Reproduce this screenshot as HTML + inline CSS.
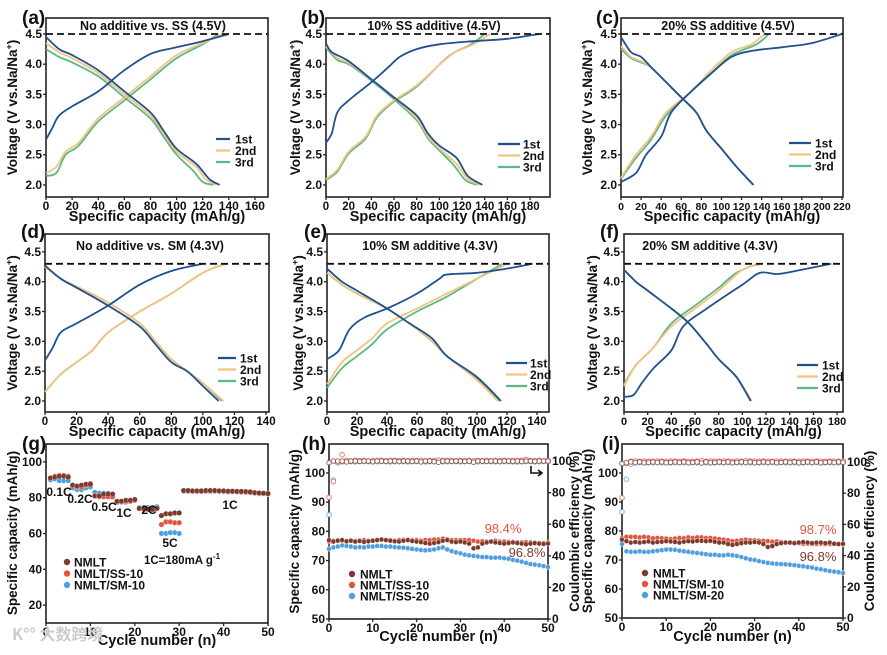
<!DOCTYPE html>
<html><head><meta charset="utf-8"><style>
html,body{margin:0;padding:0;background:#fff;}
svg{display:block;font-family:"Liberation Sans",Arial,sans-serif;font-weight:bold;}
</style></head><body>
<svg id="fig" xmlns="http://www.w3.org/2000/svg" width="887" height="655" viewBox="0 0 887 655"></svg>
<script>
// ---------- DATA: charge/discharge curves [capacity, voltage] ----------
const a1c=[[0,2.75],[5,2.95],[10,3.15],[20,3.3],[40,3.55],[60,3.9],[80,4.17],[100,4.28],[120,4.38],[140,4.5]];
const a1d=[[0,4.45],[10,4.25],[20,4.15],[40,3.9],[60,3.55],[80,3.2],[90,2.9],[100,2.6],[115,2.35],[125,2.1],[133,2.0]];
const a2c=[[0,2.2],[8,2.3],[15,2.55],[25,2.7],[40,3.1],[60,3.45],[80,3.8],[100,4.15],[120,4.35],[135,4.5]];
const a2d=[[0,4.35],[10,4.2],[20,4.1],[40,3.85],[60,3.5],[80,3.15],[90,2.85],[100,2.55],[115,2.3],[122,2.1],[130,2.0]];
const a3c=[[0,2.15],[8,2.2],[15,2.5],[25,2.65],[40,3.05],[60,3.4],[80,3.75],[100,4.1],[120,4.33],[132,4.5]];
const a3d=[[0,4.25],[10,4.12],[20,4.03],[40,3.8],[60,3.45],[80,3.1],[90,2.8],[100,2.5],[112,2.25],[120,2.05],[128,2.0]];

const b1c=[[0,2.7],[5,2.85],[10,3.2],[20,3.4],[40,3.7],[55,3.95],[65,4.12],[80,4.25],[100,4.33],[130,4.38],[160,4.42],[188,4.5]];
const b1d=[[0,4.35],[5,4.2],[20,4.05],[40,3.75],[60,3.45],[80,3.15],[90,2.85],[100,2.65],[115,2.45],[125,2.15],[138,2.0]];
const b2c=[[0,2.1],[10,2.25],[20,2.55],[35,2.8],[45,3.15],[60,3.4],[80,3.65],[110,4.15],[130,4.33],[145,4.5]];
const b2d=[[0,4.3],[10,4.1],[20,4.02],[40,3.75],[60,3.45],[80,3.1],[90,2.8],[100,2.6],[115,2.35],[125,2.1],[135,2.0]];
const b3c=[[0,2.08],[10,2.22],[20,2.52],[35,2.77],[45,3.12],[60,3.38],[80,3.63],[108,4.13],[128,4.33],[140,4.5]];
const b3d=[[0,4.28],[10,4.07],[20,4.0],[40,3.73],[60,3.42],[80,3.07],[90,2.77],[100,2.57],[113,2.32],[123,2.08],[133,2.0]];

const c1c=[[0,2.05],[15,2.2],[25,2.5],[40,2.8],[50,3.2],[70,3.55],[90,3.85],[110,4.12],[130,4.22],[160,4.28],[190,4.35],[220,4.5]];
const c1d=[[0,4.45],[10,4.2],[20,4.12],[30,3.95],[45,3.7],[60,3.45],[75,3.2],[85,2.9],[100,2.6],[115,2.3],[132,2.0]];
const c2c=[[0,2.12],[15,2.5],[30,2.8],[45,3.2],[70,3.55],[90,3.9],[110,4.2],[130,4.33],[143,4.5]];
const c2d=[[0,4.3],[10,4.12],[20,4.05],[30,3.95],[45,3.7],[60,3.45],[75,3.2],[85,2.9],[100,2.6],[115,2.3],[131,2.0]];
const c3c=[[0,2.1],[15,2.45],[30,2.75],[45,3.15],[70,3.55],[90,3.85],[110,4.15],[135,4.33],[147,4.5]];
const c3d=[[0,4.25],[10,4.1],[20,4.03],[30,3.95],[45,3.7],[60,3.45],[75,3.2],[85,2.9],[100,2.6],[115,2.3],[131,2.0]];

const d1c=[[0,2.68],[5,2.9],[10,3.15],[20,3.3],[40,3.6],[60,3.95],[80,4.18],[100,4.3]];
const d1d=[[0,4.27],[10,4.05],[20,3.9],[40,3.6],[60,3.25],[70,2.95],[80,2.65],[90,2.5],[100,2.25],[110,2.0]];
const d2c=[[0,2.15],[10,2.45],[20,2.65],[30,2.85],[40,3.15],[60,3.5],[80,3.8],[100,4.15],[115,4.3]];
const d2d=[[0,4.25],[10,4.05],[20,3.92],[40,3.65],[60,3.3],[70,3.0],[80,2.7],[90,2.5],[100,2.3],[113,2.0]];
const d3c=[[0,2.15],[10,2.45],[20,2.65],[30,2.85],[40,3.15],[60,3.5],[80,3.8],[100,4.15],[114,4.3]];
const d3d=[[0,4.25],[10,4.05],[20,3.92],[40,3.65],[60,3.3],[70,3.0],[80,2.7],[90,2.5],[100,2.3],[112,2.0]];

const e1c=[[0,2.7],[8,2.85],[15,3.2],[25,3.4],[40,3.55],[60,3.8],[75,4.05],[80,4.12],[100,4.15],[120,4.22],[137,4.3]];
const e1d=[[0,4.22],[10,4.0],[20,3.85],[40,3.55],[55,3.3],[70,3.05],[80,2.75],[100,2.4],[116,2.0]];
const e2c=[[0,2.28],[10,2.65],[20,2.85],[30,3.05],[40,3.3],[60,3.55],[80,3.8],[100,4.05],[120,4.3]];
const e2d=[[0,4.15],[10,3.95],[20,3.8],[40,3.55],[55,3.3],[70,3.0],[80,2.75],[100,2.35],[114,2.0]];
const e3c=[[0,2.22],[10,2.55],[20,2.75],[30,2.95],[40,3.2],[60,3.5],[80,3.75],[100,4.05],[117,4.3]];
const e3d=[[0,4.15],[10,3.95],[20,3.8],[40,3.55],[55,3.3],[70,3.0],[80,2.75],[100,2.37],[115,2.0]];

const f1c=[[0,2.07],[8,2.1],[15,2.3],[25,2.55],[40,2.85],[50,3.25],[70,3.55],[100,3.95],[115,4.15],[130,4.13],[150,4.2],[175,4.3]];
const f1d=[[0,4.2],[10,4.0],[20,3.85],[40,3.55],[55,3.3],[70,2.95],[80,2.7],[95,2.4],[107,2.0]];
const f2c=[[0,2.25],[10,2.6],[25,2.9],[40,3.25],[60,3.55],[80,3.85],[100,4.2],[117,4.3]];
const f2d=[[0,4.2],[10,4.0],[20,3.85],[40,3.55],[55,3.3],[70,2.95],[80,2.7],[95,2.4],[108,2.0]];
const f3c=[[0,2.28],[10,2.6],[25,2.9],[40,3.3],[60,3.6],[80,3.9],[95,4.15],[113,4.3]];
const f3d=[[0,4.2],[10,4.0],[20,3.85],[40,3.55],[55,3.3],[70,2.95],[80,2.7],[95,2.4],[107,2.0]];

// ---------- DATA: rate capability (g) ----------
const gNMLT=[91,91.5,92,92,91.5,87,86.5,87,87.5,87.5,81,81,82,82,82,78,78,78.5,78.5,79,74,74,73.5,73.5,74,70,71,71,71.5,71.5,84,84,83.8,83.8,83.8,84,84,84,83.8,83.8,83.6,83.6,83.5,83.5,83.4,83.2,82.8,82.6,82.5,82.3];
const gSS10=[91,92,92.5,92.5,92,87,86,86,87,88,81,80.5,80.5,80.5,80.5,77.5,78,78,78,78.5,74,73.5,73.5,73.5,74,65,66.5,66.5,66,66,83.8,83.8,83.6,83.6,83.6,83.8,83.8,83.8,83.6,83.6,83.4,83.4,83.4,83.2,83.2,83,82.7,82.5,82.4,82.2];
const gSM10=[90,90.5,89.5,89.5,89.5,85.5,84.5,84.5,85.5,86,83,82.5,82.5,82.5,82,77.5,77.5,77.5,78,78.5,74.5,74.5,74.5,74.5,75,60,60,60.5,60.5,60,83.5,83.5,83.4,83.4,83.4,83.5,83.5,83.5,83.4,83.4,83.2,83.2,83.2,83,83,82.8,82.5,82.3,82.2,82];
const rateLabels=["0.1C","0.2C","0.5C","1C","2C","5C","1C"];

// ---------- DATA: cycling (h) ----------
const hNMLT=[77,76.5,76.8,77,76.6,76.8,76.5,76.7,76.4,76.6,76.8,77,77.2,77,76.8,76.6,76.5,76.8,77,76.7,76.5,76.3,76,75.8,76,76.3,76.8,77,76.5,76.3,76.5,76.2,75.8,74.2,74.5,75.8,76.2,76.5,76.2,76,75.8,76,76.2,76,75.8,75.6,75.8,76,75.8,75.7,75.8];
const hSS10=[76.5,76.8,77,76.8,76.5,76.8,76.7,76.8,77,76.8,76.8,77,77.2,77,77,76.8,77,77.1,77.2,77,77,76.8,77,77,77.2,77.2,77.5,77.3,77,77,77,77,77,76.8,76.5,76.6,76.5,76.5,76.8,76.5,76.5,76.4,76.4,76.3,76.2,76.3,76.2,76,76,76,76.2];
const hSS20=[74,74.5,74.8,75.2,75,74.8,74.5,74.6,74.5,74.8,74.8,75,75,74.8,74.8,74.6,74.5,74.4,74.2,74,73.8,73.6,73.5,73.6,73.8,74.2,74.5,73.8,73.2,72.8,72.5,72,71.8,71.6,71.4,71.2,71.2,71,71,71,70.8,70.6,70.2,70,69.6,69.2,68.8,68.6,68.4,68.1,67.8];
const hCE_NMLT=[99,100,100,100,99.5,100,100,99.8,100,100,99.6,100,100,99.8,100,100,99.7,100,100,99.8,100,99.5,100,100,99.6,99.2,100,100,99.8,100,100,99.8,100,99.3,100,100,99.8,100,100,99.7,100,100,99.8,100,99.7,100,100,99.8,100,100,100];
const hCE_SS10=[77,87,99,104,100.5,100,100.5,100.3,100.5,100,100.4,100.3,100.5,100.2,100.4,100.5,100.3,100.5,100.2,100.4,100.3,100.5,100.2,100.4,100.3,100.6,100.4,100.3,100.5,100.2,100.4,100.3,100.5,100.2,100.4,100.3,100.5,100.2,100.4,100.3,100.5,100.2,100.4,100.3,100.5,101,100.4,100.3,100.5,100.2,100.4];
const hCE_SS20=[66,88,99,99.5,99.6,99.6,99.5,99.6,99.7,99.6,99.5,99.6,99.7,99.6,99.5,99.6,99.7,99.6,99.5,99.6,99.7,99.6,99.5,99.6,99.7,99.6,99.5,99.6,99.7,99.6,99.5,99.6,99.7,99.6,99.5,99.6,99.7,99.6,99.5,99.6,99.7,99.6,99.5,99.4,99.6,99.7,99.6,99.5,99.6,99.7,99.6];
const hLabels=["NMLT","NMLT/SS-10","NMLT/SS-20"];

// ---------- DATA: cycling (i) ----------
const iNMLT=[77,76.5,76,76.2,76,76.2,76.4,76,76.2,76.3,76.5,76.4,76.2,76,76.3,76.5,76.4,76.6,76.6,76.5,76.6,76.3,76,76,75.5,75.2,75.5,75.8,76,76,76.2,76,75.5,74.5,74.8,75.5,75.8,76,76,75.8,76,76.2,76,75.8,76,76,75.8,76,75.6,75.5,75.6];
const iSM10=[77.5,78,78,78,77.8,78,77.8,77.5,77.6,77.5,77.4,77.2,77.4,77.6,77.5,77.8,77.6,77.8,77.8,77.6,77.6,77.4,77.2,77,76.8,76.5,76.6,76.8,77,76.8,76.8,76.6,76.6,76.5,76.3,76.4,76.2,76,76,76,75.8,75.6,75.6,75.5,75.5,75.6,75.5,75.5,75.6,75.5,75.4];
const iSM20=[75.5,73,72.8,72.8,73,72.8,72.8,73,73.2,73.4,73.6,73.6,73.5,73.2,73,72.8,72.6,72.4,72.2,72,71.8,71.8,71.6,71.6,71.8,71.6,71.4,71,70.6,70.2,70,69.6,69.3,69,68.8,68.7,68.6,68.5,68.4,68.2,68,67.8,67.6,67.4,67,66.8,66.5,66.2,66,65.8,65.5];
const iCE_NMLT=[99,99.5,100,99.6,100,99.5,99.7,100,99.6,100,99.5,99.7,100,99.6,100,99.5,99.7,100,99.3,100,99.5,99.7,100,99.6,100,99.5,99.7,100,99.6,100,99.5,99.7,100,99.6,100,99.5,99.7,100,99.6,100,99.5,99.7,100,99.6,100,99.5,99.7,100,99.6,100,99.7];
const iCE_SM10=[77,99,100.5,100.6,100.4,100.6,100.5,100.4,100.6,100.5,100.4,100.6,100.5,100.4,100.6,100.5,100.4,100.6,100.8,100.4,100.6,100.5,100.4,100.6,100.5,100.4,100.6,100.5,100.8,100.6,100.5,100.4,100.6,100.5,100.4,100.6,100.5,100.4,100.6,100.5,100.4,100.6,100.5,100.4,100.6,100.5,100.4,100.6,100.5,100.4,100.6];
const iCE_SM20=[68,89,98.5,99.5,99.6,99.5,99.6,99.5,99.6,99.5,99.6,99.5,99.6,99.5,99.6,99.5,99.6,99.5,99.6,99.5,99.6,99.5,99.6,99.5,99.6,99.5,99.6,99.5,99.6,99.5,99.6,99.5,99.6,99.5,99.6,99.5,99.6,99.5,99.6,99.5,99.6,99.5,99.6,99.5,99.6,99.5,99.6,99.5,99.6,99.5,99.8];
const iLabels=["NMLT","NMLT/SM-10","NMLT/SM-20"];

const cycleTicks=[0,10,20,30,40,50];

// ---------- helpers ----------
const NS="http://www.w3.org/2000/svg";
const root=document.getElementById('fig');
function mk(tag,parent,name,attrs){
  const e=document.createElementNS(NS,tag);
  
  
  for(const k in attrs) e.setAttribute(k,attrs[k]);
  parent.appendChild(e);
  return e;
}
function txt(parent,name,x,y,s,attrs){const t=mk('text',parent,name,attrs);t.setAttribute('x',x);t.setAttribute('y',y);t.textContent=s;return t;}
function scale(d0,d1,r0,r1){return v=>r0+(v-d0)/(d1-d0)*(r1-r0);}
function smooth(pts){
  let d="M"+pts[0][0].toFixed(1)+","+pts[0][1].toFixed(1);
  for(let i=0;i<pts.length-1;i++){
    const p0=pts[i-1]||pts[i],p1=pts[i],p2=pts[i+1],p3=pts[i+2]||p2;
    const c1=[p1[0]+(p2[0]-p0[0])/6,p1[1]+(p2[1]-p0[1])/6];
    const c2=[p2[0]-(p3[0]-p1[0])/6,p2[1]-(p3[1]-p1[1])/6];
    d+="C"+c1.map(v=>v.toFixed(1))+" "+c2.map(v=>v.toFixed(1))+" "+p2.map(v=>v.toFixed(1));
  }
  return d;
}
const COL=["#21508e","#f3c37f","#5cb886"];
const MC={brown:"#7d3a2c",red:"#e0563c",blue:"#4f9fe0"};

function frame(g,P,xt,yt,fmtY,fs){
  fs=fs||12;
  const sx=scale(P.xd[0],P.xd[1],P.x0,P.x1), sy=scale(P.yd[0],P.yd[1],P.y1,P.y0);
  mk('rect',g,'plot-frame',{x:P.x0,y:P.y0,width:P.x1-P.x0,height:P.y1-P.y0,fill:'none',stroke:'#222','stroke-width':1.6});
  xt.forEach(v=>{
    const x=sx(v);
    mk('line',g,'x-tick',{x1:x,x2:x,y1:P.y1,y2:P.y1+3,stroke:'#222','stroke-width':1.3});
    txt(g,'x-tick-label',x,P.y1+13,String(v),{'font-size':fs,'text-anchor':'middle',fill:'#111'});
  });
  yt.forEach(v=>{
    const y=sy(v);
    mk('line',g,'y-tick',{x1:P.x0-3,x2:P.x0,y1:y,y2:y,stroke:'#222','stroke-width':1.3});
    txt(g,'y-tick-label',P.x0-4,y+4,fmtY?fmtY(v):String(v),{'font-size':12,'text-anchor':'end',fill:'#111'});
  });
  return {sx,sy};
}
function vtitle(g,name,x,cy,s,size){
  return txt(g,name,0,0,s,{'font-size':size||14,'text-anchor':'middle',fill:'#111',transform:`translate(${x},${cy}) rotate(-90)`});
}

// ---------- voltage panels ----------
const vPanels=[
 {id:'a',x0:46,x1:268,y0:18,y1:197,xd:[0,170],yd:[1.8,4.765],xt:[0,20,40,60,80,100,120,140,160],fs:12,cut:4.5,title:"No additive vs. SS (4.5V)",tx:153,ty:30,lx:22,ly:24,yx:17,curves:[[a1c,a1d],[a2c,a2d],[a3c,a3d]],leg:[216,230,235,139]},
 {id:'b',x0:326,x1:550,y0:18,y1:197,xd:[0,197.6],yd:[1.8,4.765],xt:[0,20,40,60,80,100,120,140,160,180],fs:11.5,cut:4.5,title:"10% SS additive (4.5V)",tx:434,ty:30,lx:301,ly:24,yx:300,curves:[[b1c,b1d],[b2c,b2d],[b3c,b3d]],leg:[498,520,523,144]},
 {id:'c',x0:621,x1:843,y0:18,y1:197,xd:[0,221],yd:[1.8,4.765],xt:[0,20,40,60,80,100,120,140,160,180,200,220],fs:10.5,cut:4.5,title:"20% SS additive (4.5V)",tx:728,ty:30,lx:596,ly:24,yx:592,curves:[[c1c,c1d],[c2c,c2d],[c3c,c3d]],leg:[789,811,815,143]},
 {id:'d',x0:45,x1:269,y0:234,y1:412,xd:[0,141.9],yd:[1.815,4.80],xt:[0,20,40,60,80,100,120,140],fs:11.5,cut:4.3,title:"No additive vs. SM (4.3V)",tx:150,ty:250,lx:21,ly:238,yx:17,curves:[[d1c,d1d],[d2c,d2d],[d3c,d3d]],leg:[218,236,240,358]},
 {id:'e',x0:327,x1:549,y0:234,y1:412,xd:[0,148],yd:[1.815,4.80],xt:[0,20,40,60,80,100,120,140],fs:11.5,cut:4.3,title:"10% SM additive (4.3V)",tx:430,ty:250,lx:304,ly:238,yx:303,curves:[[e1c,e1d],[e2c,e2d],[e3c,e3d]],leg:[506,527,530,363]},
 {id:'f',x0:624,x1:843,y0:234,y1:412,xd:[0,185],yd:[1.815,4.80],xt:[0,20,40,60,80,100,120,140,160,180],fs:11,cut:4.3,title:"20% SM additive (4.3V)",tx:710,ty:250,lx:600,ly:238,yx:597,curves:[[f1c,f1d],[f2c,f2d],[f3c,f3d]],leg:[797,818,822,365]},
];
const vTicks=[2.0,2.5,3.0,3.5,4.0,4.5];
const cycLabels=["1st","2nd","3rd"];
vPanels.forEach(P=>{
  const g=mk('g',root,'panel-'+P.id,{});
  const {sx,sy}=frame(g,P,P.xt,vTicks,v=>v.toFixed(1),P.fs);
  [2,1,0].forEach(k=>{
    P.curves[k].forEach((arr,j)=>{
      const pts=arr.map(p=>[sx(p[0]),sy(p[1])]);
      mk('path',g,(j?'discharge-curve-':'charge-curve-')+cycLabels[k],{d:smooth(pts),fill:'none',stroke:COL[k],'stroke-width':1.8});
    });
  });
  const yc=sy(P.cut);
  mk('line',g,'cutoff-voltage-line',{x1:P.x0,x2:P.x1,y1:yc,y2:yc,stroke:'#111','stroke-width':1.8,'stroke-dasharray':'7,4'});
  txt(g,'panel-title',P.tx,P.ty,P.title,{'font-size':12.5,'text-anchor':'middle',fill:'#111'});
  txt(g,'panel-label',P.lx,P.ly,'('+P.id+')',{'font-size':19,fill:'#111'});
  const t=vtitle(g,'y-axis-title',P.yx,(P.y0+P.y1)/2,'',13.5);
  t.innerHTML='Voltage (V vs.Na/Na<tspan dy="-5" font-size="9">+</tspan><tspan dy="5">)</tspan>';
  txt(g,'x-axis-title',(P.x0+P.x1)/2,P.y1+24,'Specific capacity (mAh/g)',{'font-size':14.5,'text-anchor':'middle',fill:'#111'});
  cycLabels.forEach((s,k)=>{
    const y=P.leg[3]+k*11.5;
    mk('line',g,'legend-line-'+s,{x1:P.leg[0],x2:P.leg[1],y1:y,y2:y,stroke:COL[k],'stroke-width':2.2});
    txt(g,'legend-label-'+s,P.leg[2],y+4.5,s,{'font-size':12,fill:'#111'});
  });
});

// ---------- panel g ----------
(function(){
  const P={x0:46,x1:268,y0:444,y1:623,xd:[0,50],yd:[10,110]};
  const g=mk('g',root,'panel-g',{});
  const {sx,sy}=frame(g,P,cycleTicks,[20,40,60,80,100],null,12);
  const series=[[gSM10,MC.blue,'NMLT/SM-10'],[gSS10,MC.red,'NMLT/SS-10'],[gNMLT,MC.brown,'NMLT']];
  series.forEach(s=>{
    s[0].forEach((v,i)=>{
      mk('circle',g,'rate-point',{cx:sx(i+1),cy:sy(v),r:2.7,fill:s[1],stroke:'#fff','stroke-width':0.5,'stroke-opacity':0.6});
    });
  });
  const rl=[[59,492],[80,499],[104,507],[124,513],[149,510],[170,543],[230,505]];
  rateLabels.forEach((s,i)=>txt(g,'rate-label',rl[i][0],rl[i][1]+4,s,{'font-size':12,'text-anchor':'middle',fill:'#111'}));
  txt(g,'rate-note',182,564,'1C=180mA g',{'font-size':11.5,'text-anchor':'middle',fill:'#111'}).innerHTML='1C=180mA g<tspan dy="-5" font-size="8">-1</tspan>';
  [['NMLT',MC.brown],['NMLT/SS-10',MC.red],['NMLT/SM-10',MC.blue]].forEach((s,k)=>{
    const y=562+k*11.5;
    mk('circle',g,'legend-marker',{cx:67,cy:y,r:3.2,fill:s[1]});
    txt(g,'legend-label',74,y+4.5,s[0],{'font-size':12,fill:'#111'});
  });
  txt(g,'panel-label',22,450,'(g)',{'font-size':19,fill:'#111'});
  vtitle(g,'y-axis-title',17,533,'Specific capacity (mAh/g)',13.5);
  txt(g,'x-axis-title',157,645,'Cycle number (n)',{'font-size':14.5,'text-anchor':'middle',fill:'#111'});
  txt(g,'watermark',12,640,'K°° 大数跨境',{'font-size':16,fill:'#ccc','font-family':'"Noto Sans CJK SC",sans-serif'});
})();

// ---------- panels h,i ----------
function cyclePanel(id,P,caps,ces,labels,ann,lab){
  const g=mk('g',root,'panel-'+id,{});
  const {sx,sy}=frame(g,P,cycleTicks,[50,60,70,80,90,100],null,12);
  const sy2=scale(P.y2d[0],P.y2d[1],P.y1,P.y0);
  [0,20,40,60,80,100].forEach(v=>{
    const y=sy2(v);
    mk('line',g,'y2-tick',{x1:P.x1,x2:P.x1+3,y1:y,y2:y,stroke:'#222','stroke-width':1.3});
    txt(g,'y2-tick-label',P.x1+4,y+4,String(v),{'font-size':12,fill:'#111'});
  });
  const cols=[MC.brown,MC.red,MC.blue];
  [2,1,0].forEach(k=>{
    ces[k].forEach((v,i)=>mk('circle',g,'ce-point',{cx:sx(i),cy:sy2(v),r:2.3,fill:'#fff',stroke:cols[k],'stroke-width':1,'stroke-opacity':0.75}));
  });
  [2,1,0].forEach(k=>{
    caps[k].forEach((v,i)=>mk('circle',g,'capacity-point',{cx:sx(i),cy:sy(v),r:2.5,fill:cols[k],stroke:'#fff','stroke-width':0.6,'stroke-opacity':0.7}));
  });
  labels.forEach((s,k)=>{
    const y=P.legY+k*11;
    mk('circle',g,'legend-marker',{cx:P.legX,cy:y,r:3.2,fill:cols[k]});
    txt(g,'legend-label',P.legX+8,y+4.5,s,{'font-size':12,fill:'#111'});
  });
  txt(g,'retention-label',ann[0],ann[1],ann[2],{'font-size':13,'text-anchor':'middle',fill:MC.red,'font-weight':'normal'});
  txt(g,'retention-label',ann[3],ann[4],ann[5],{'font-size':13,'text-anchor':'middle',fill:MC.brown,'font-weight':'normal'});
  txt(g,'panel-label',lab,450,'('+id+')',{'font-size':19,fill:'#111'});
  vtitle(g,'y-axis-title',P.x0-30,(P.y0+P.y1)/2,'Specific capacity (mAh/g)',13.5);
  vtitle(g,'y2-axis-title',P.x1+31,(P.y0+P.y1)/2,'Coulombic efficiency (%)',13.5);
  txt(g,'x-axis-title',(P.x0+P.x1)/2,641,'Cycle number (n)',{'font-size':14.5,'text-anchor':'middle',fill:'#111'});
  return g;
}
const gh=cyclePanel('h',{x0:329,x1:548,y0:444,y1:619,xd:[0,50],yd:[50,109.9],y2d:[0,110.8],legX:352,legY:574},[hNMLT,hSS10,hSS20],[hCE_NMLT,hCE_SS10,hCE_SS20],hLabels,[503,533,'98.4%',527,557,'96.8%'],302);
mk('path',gh,'ce-axis-arrow',{d:'M531,466 V473 H541 M538,470 L542,473 L538,476',fill:'none',stroke:'#111','stroke-width':1.6});
cyclePanel('i',{x0:622,x1:843,y0:444,y1:618,xd:[0,50],yd:[50,110],y2d:[0,111.5],legX:645,legY:573},[iNMLT,iSM10,iSM20],[iCE_NMLT,iCE_SM10,iCE_SM20],iLabels,[818,534,'98.7%',818,561,'96.8%'],602);
</script>
</body></html>
